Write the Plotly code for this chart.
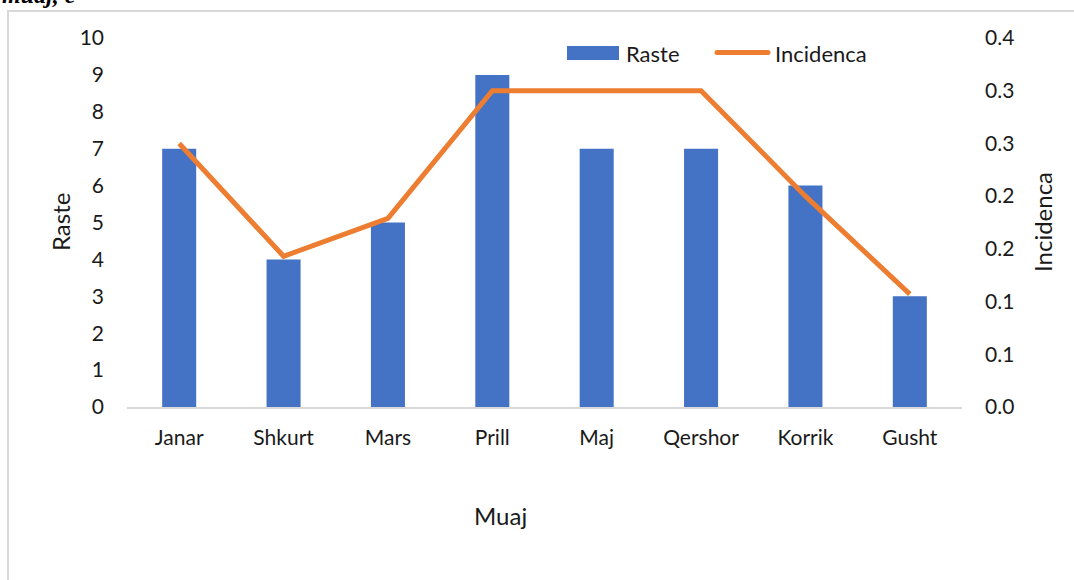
import plotly.graph_objects as go

months = ["Janar", "Shkurt", "Mars", "Prill", "Maj", "Qershor", "Korrik", "Gusht"]
raste = [7, 4, 5, 9, 7, 7, 6, 3]
incidenca = [0.25, 0.143, 0.179, 0.30, 0.30, 0.30, 0.20, 0.107]
left_ticks = [0, 1, 2, 3, 4, 5, 6, 7, 8, 9, 10]
right_tickvals = [0, 0.05, 0.10, 0.15, 0.20, 0.25, 0.30, 0.35]
right_ticktext = ["0.0", "0.1", "0.1", "0.2", "0.2", "0.3", "0.3", "0.4"]

W, H = 1074, 580
L, R, T, B = 127, 962, 38, 407
FONT = "Lato"
TXT = "#1a1a1a"
BLUE = "#4472C4"
ORANGE = "#ED7D31"
TICK_SIZE = 21
LEG_SIZE = 22
TITLE_SIZE = 24


def px(x):
    return (x - L) / (R - L)


def py(y):
    return (B - y) / (B - T)


fig = go.Figure()
fig.add_trace(go.Bar(x=months, y=raste, name="Raste", marker_color=BLUE,
                     marker_line_width=0, showlegend=False))
fig.add_trace(go.Scatter(x=months, y=incidenca, name="Incidenca", yaxis="y2",
                         mode="lines", line=dict(color=ORANGE, width=5),
                         showlegend=False))

shapes = [
    dict(type="rect", xref="paper", yref="paper", x0=px(8), x1=px(1090), y0=py(11), y1=py(600),
         line=dict(color="#D9D9D9", width=2), fillcolor="rgba(0,0,0,0)", layer="below"),
    dict(type="rect", xref="paper", yref="paper", x0=px(567), x1=px(619), y0=py(46), y1=py(60),
         line=dict(width=0), fillcolor=BLUE),
    dict(type="line", xref="paper", yref="paper", x0=px(717), x1=px(768), y0=py(52.5), y1=py(52.5),
         line=dict(color=ORANGE, width=5)),
]
for cx in (717, 768):
    shapes.append(dict(type="circle", xref="paper", yref="paper",
                       x0=px(cx - 2.5), x1=px(cx + 2.5), y0=py(52.5 + 2.5), y1=py(52.5 - 2.5),
                       line=dict(width=0), fillcolor=ORANGE))

annotations = [
    dict(text="<b><i>muaj, e</i></b>", xref="paper", yref="paper", x=px(0), y=py(10),
         xanchor="left", yanchor="bottom", showarrow=False,
         font=dict(family="Liberation Serif", size=24, color="#000000")),
    dict(text="Raste", xref="paper", yref="paper", x=px(624), y=py(53), xanchor="left",
         yanchor="middle", showarrow=False, font=dict(family=FONT, size=LEG_SIZE, color=TXT)),
    dict(text="Incidenca", xref="paper", yref="paper", x=px(773), y=py(53), xanchor="left",
         yanchor="middle", showarrow=False, font=dict(family=FONT, size=LEG_SIZE, color=TXT)),
    dict(text="Raste", xref="paper", yref="paper", x=px(60), y=py(222), xanchor="center",
         yanchor="middle", showarrow=False, textangle=-90,
         font=dict(family=FONT, size=TITLE_SIZE, color=TXT)),
    dict(text="Incidenca", xref="paper", yref="paper", x=px(1042), y=py(222), xanchor="center",
         yanchor="middle", showarrow=False, textangle=-90,
         font=dict(family=FONT, size=TITLE_SIZE, color=TXT)),
    dict(text="Muaj", xref="paper", yref="paper", x=px(500), y=py(515), xanchor="center",
         yanchor="middle", showarrow=False, font=dict(family=FONT, size=TITLE_SIZE, color=TXT)),
]

fig.update_layout(
    width=W, height=H,
    margin=dict(l=L, r=W - R, t=T, b=H - B, pad=0),
    paper_bgcolor="white", plot_bgcolor="white",
    bargap=0.674,
    font=dict(family=FONT, size=TICK_SIZE, color=TXT),
    shapes=shapes,
    annotations=annotations,
    xaxis=dict(type="category", showgrid=False, showline=True, linecolor="#D9D9D9",
               linewidth=1.5, ticks="", tickfont=dict(family=FONT, size=TICK_SIZE, color=TXT),
               ticklabelstandoff=11, zeroline=False),
    yaxis=dict(range=[0, 10], tickvals=left_ticks, showgrid=False, zeroline=False,
               showline=False, ticks="", ticklabelstandoff=22,
               tickfont=dict(family=FONT, size=TICK_SIZE, color=TXT)),
    yaxis2=dict(range=[0, 0.35], overlaying="y", side="right", tickvals=right_tickvals,
                ticktext=right_ticktext, showgrid=False, zeroline=False, showline=False,
                ticks="", ticklabelstandoff=22,
                tickfont=dict(family=FONT, size=TICK_SIZE, color=TXT)),
)

fig.write_html("out.html", config={"displayModeBar": False},
               post_script="document.body.style.margin='0';document.body.style.overflow='hidden';")
